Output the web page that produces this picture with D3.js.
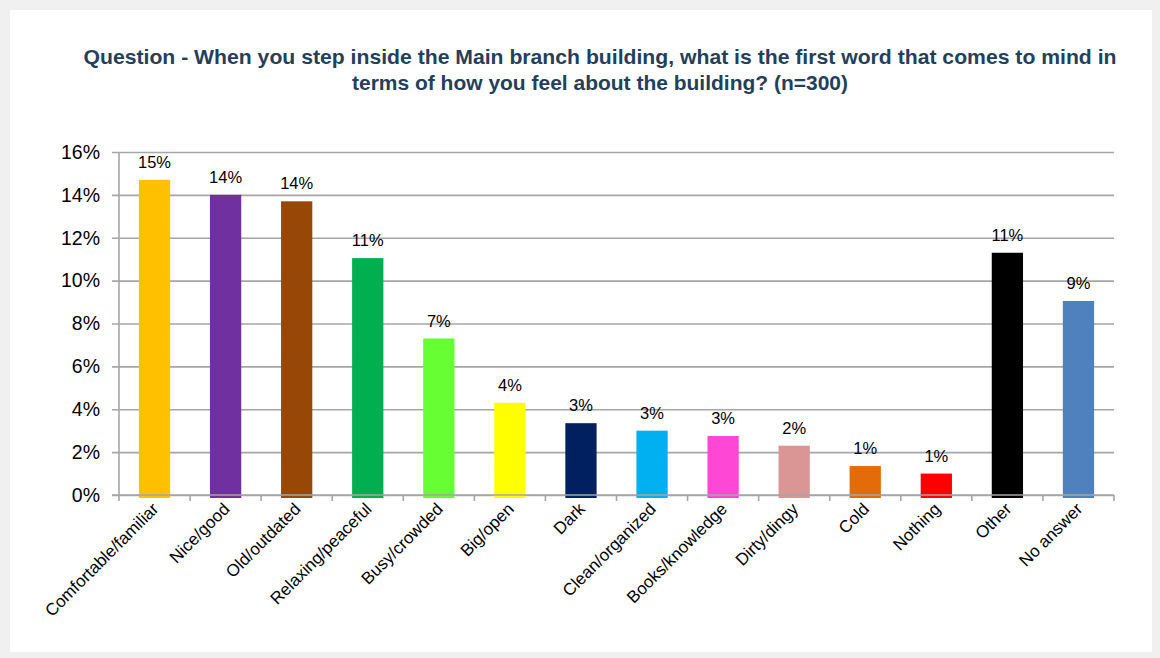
<!DOCTYPE html>
<html>
<head>
<meta charset="utf-8">
<script src="https://cdn.jsdelivr.net/npm/d3@7"></script>
<style>
  html, body { margin: 0; padding: 0; background: #f0f0f0; }
  svg { display: block; font-family: "Liberation Sans", Arial, sans-serif; }
</style>
</head>
<body>
<svg id="chart" width="1160" height="658"></svg>
<script>
// Answers to the "first word" question, share of respondents (%)
const categories = [
  "Comfortable/familiar", "Nice/good", "Old/outdated", "Relaxing/peaceful",
  "Busy/crowded", "Big/open", "Dark", "Clean/organized", "Books/knowledge",
  "Dirty/dingy", "Cold", "Nothing", "Other", "No answer"
];
const values = [14.7, 14.0, 13.7, 11.05, 7.3, 4.3, 3.35, 3.0, 2.75, 2.3, 1.35, 1.0, 11.3, 9.05];
const barColors = [
  "#FFC000", "#7030A0", "#974706", "#00B050", "#66FF33", "#FFFF00", "#002060",
  "#00B0F0", "#FF47D6", "#D99694", "#E36C09", "#FF0000", "#000000", "#4F81BD"
];
const yTicks = [0, 2, 4, 6, 8, 10, 12, 14, 16];
const titleLines = [
  "Question - When you step inside the Main branch building, what is the first word that comes to mind in",
  "terms of how you feel about the building? (n=300)"
];

const svg = d3.select("#chart");

// white slide panel
svg.append("rect")
  .attr("x", 10).attr("y", 10).attr("width", 1142).attr("height", 642)
  .attr("fill", "#ffffff");

const plot = { left: 119, right: 1114, top: 152, bottom: 495 };

const x = d3.scaleBand()
  .domain(categories)
  .range([plot.left, plot.right])
  .paddingInner(0.56)
  .paddingOuter(0.28);

const y = d3.scaleLinear()
  .domain([0, 16])
  .range([plot.bottom, plot.top]);

// title, two centred lines
const title = svg.append("text")
  .attr("text-anchor", "middle")
  .attr("font-weight", "bold")
  .attr("font-size", 20.5)
  .attr("fill", "#243F5B");
titleLines.forEach((line, i) => {
  const t = title.append("tspan")
    .attr("x", 600)
    .attr("y", 64 + i * 26)
    .text(line);
  if (i === 0) t.attr("textLength", 1033).attr("lengthAdjust", "spacingAndGlyphs");
  else t.attr("textLength", 496).attr("lengthAdjust", "spacingAndGlyphs");
});

// gridlines + y axis labels
const yAxis = d3.axisLeft(y)
  .tickValues(yTicks)
  .tickFormat(d => d + "%")
  .tickSize(-(plot.right - plot.left))
  .tickPadding(19);

const gy = svg.append("g")
  .attr("transform", `translate(${plot.left},0)`)
  .call(yAxis);
gy.select(".domain").remove();
gy.selectAll(".tick line")
  .attr("x1", -7)
  .attr("stroke", "#a6a6a6")
  .attr("stroke-width", 1.6);
gy.selectAll(".tick text")
  .attr("font-size", 19.5)
  .attr("fill", "#000")
  .attr("font-family", "Liberation Sans, Arial, sans-serif");

// y axis line
svg.append("line")
  .attr("x1", plot.left).attr("x2", plot.left)
  .attr("y1", plot.top).attr("y2", plot.bottom)
  .attr("stroke", "#a6a6a6").attr("stroke-width", 1.6);

// bars
svg.append("g")
  .selectAll("rect")
  .data(values)
  .join("rect")
  .attr("x", (d, i) => x(categories[i]))
  .attr("width", x.bandwidth())
  .attr("y", d => y(d))
  .attr("height", d => y(0) - y(d) + 3)
  .attr("fill", (d, i) => barColors[i]);

// value labels
svg.append("g")
  .selectAll("text")
  .data(values)
  .join("text")
  .attr("x", (d, i) => x(categories[i]) + x.bandwidth() / 2)
  .attr("y", d => y(d) - 12)
  .attr("text-anchor", "middle")
  .attr("font-size", 16.5)
  .attr("fill", "#000")
  .text(d => Math.round(d) + "%");

// x axis line and boundary ticks
const xAxisG = svg.append("g");
xAxisG.append("line")
  .attr("x1", plot.left - 7).attr("x2", plot.right)
  .attr("y1", plot.bottom).attr("y2", plot.bottom)
  .attr("stroke", "#a6a6a6").attr("stroke-width", 1.6);
const bounds = d3.range(categories.length + 1).map(i => plot.left + i * (plot.right - plot.left) / categories.length);
xAxisG.selectAll("line.tick")
  .data(bounds)
  .join("line")
  .attr("class", "tick")
  .attr("x1", d => d).attr("x2", d => d)
  .attr("y1", plot.bottom).attr("y2", plot.bottom + 6)
  .attr("stroke", "#a6a6a6").attr("stroke-width", 1.6);

// rotated category labels
svg.append("g")
  .selectAll("text")
  .data(categories)
  .join("text")
  .attr("transform", d => `translate(${x(d) + x.bandwidth() / 2 + 5},${plot.bottom + 15}) rotate(-45)`)
  .attr("text-anchor", "end")
  .attr("font-size", 17)
  .attr("fill", "#000")
  .text(d => d);
</script>
</body>
</html>
